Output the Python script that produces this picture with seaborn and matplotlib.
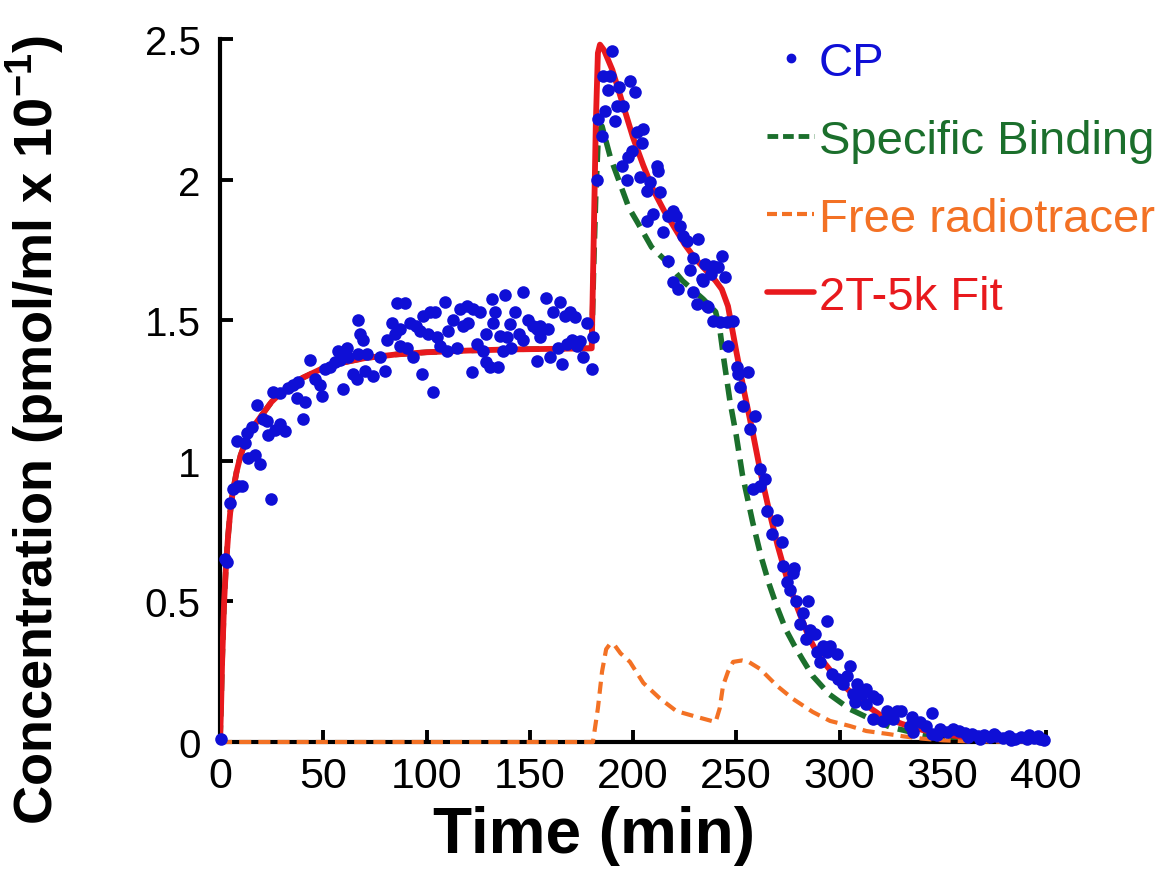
import numpy as np
import pandas as pd
import matplotlib
matplotlib.use("Agg")
import matplotlib.pyplot as plt
from matplotlib.lines import Line2D
import seaborn as sns

# ---------------- data ----------------
cp_time = [0.5, 2.5, 3.5, 4.8, 6.3, 8.7, 10.6, 8.2, 12.0, 13.6, 17.0, 19.4, 13.0, 15.5, 18.0,
           21.0, 22.8, 23.2, 24.5, 26.6, 29.0, 31.5, 25.7, 29.0, 33.0, 35.4, 37.9, 37.3, 41.0,
           40.3, 43.6, 46.0, 48.4, 49.4, 50.8, 53.3, 55.7, 58.0, 57.0, 59.6, 61.3, 62.0, 64.5,
           66.3, 66.8, 67.8, 69.4, 67.0, 71.0, 70.0, 74.0, 77.5, 80.0, 80.8, 83.3, 85.7, 89.6,
           84.7, 87.2, 87.2, 90.5, 93.5, 92.0, 95.0, 96.9, 97.8, 98.3, 101.7, 104.0, 103.0,
           100.7, 105.0, 106.5, 110.0, 109.0, 110.6, 112.8, 115.0, 116.0, 119.5, 122.6, 117.8,
           120.3, 122.0, 124.5, 126.0, 127.5, 129.0, 130.8, 134.6, 129.0, 131.6, 133.0, 132.3,
           135.6, 139.0, 137.0, 141.0, 138.0, 140.4, 142.8, 145.0, 146.8, 146.8, 149.0, 151.6,
           153.5, 155.0, 153.5, 155.0, 158.0, 159.0, 160.0, 161.5, 164.6, 165.6, 163.8, 167.0,
           169.5, 172.0, 168.0, 170.4, 172.8, 174.3, 175.8, 177.7, 180.0, 180.6,
           182.6, 183.0, 185.0, 186.4, 185.5, 188.9, 188.0, 189.8, 191.3, 192.2, 195.3, 193.4,
           198.5, 201.0, 194.7, 197.0, 197.7, 199.5, 202.0, 205.0, 204.4, 203.4, 208.0, 207.0,
           211.6, 212.0, 213.0, 206.8, 209.7, 214.5, 217.0, 219.4, 221.0, 222.8, 224.3, 226.0,
           227.6, 229.0, 231.5, 217.0, 219.4, 221.8, 229.0, 231.0, 235.8, 233.4, 234.9, 238.7,
           241.0, 243.0, 244.6, 238.0, 234.0, 236.5, 238.7, 242.0, 245.5, 248.4, 246.0, 250.4,
           251.0, 255.7, 251.8, 253.3, 259.0, 256.7, 261.5, 264.0, 258.0, 261.5, 265.0, 269.7,
           267.3, 272.0, 272.6, 278.0, 277.5, 274.6, 276.0, 279.0, 284.7, 282.3, 294.0, 281.0,
           285.7, 288.0, 283.8, 292.0, 295.4, 289.0, 294.0, 298.8, 290.6, 305.0, 296.4, 299.3,
           303.6, 301.7, 308.5, 313.0, 306.5, 311.0, 316.0, 318.0, 307.5, 313.0, 323.0, 328.0,
           330.0, 345.0, 316.0, 321.0, 326.0, 335.0, 339.0, 342.0, 334.0, 335.6, 345.0, 347.0,
           348.7, 352.0, 355.0, 358.0, 361.0, 364.0, 367.0, 370.0, 373.0, 376.0, 379.0, 382.0,
           385.0, 388.0, 391.0, 394.0, 397.0, 399.0, 362.0, 368.0, 375.0, 383.0, 392.0, 396.0]
cp_conc = [0.01, 0.65, 0.64, 0.85, 0.90, 0.91, 0.91, 1.07, 1.065, 1.01, 1.02, 0.99, 1.10, 1.12, 1.20,
           1.15, 1.14, 1.09, 0.865, 1.11, 1.13, 1.105, 1.245, 1.24, 1.26, 1.27, 1.28, 1.225, 1.21,
           1.15, 1.36, 1.29, 1.27, 1.23, 1.325, 1.335, 1.35, 1.36, 1.39, 1.255, 1.40, 1.37, 1.31,
           1.29, 1.50, 1.45, 1.43, 1.38, 1.38, 1.32, 1.30, 1.37, 1.32, 1.43, 1.49, 1.56, 1.56,
           1.45, 1.47, 1.41, 1.40, 1.37, 1.49, 1.48, 1.46, 1.31, 1.515, 1.53, 1.53, 1.245,
           1.45, 1.44, 1.41, 1.39, 1.565, 1.46, 1.50, 1.40, 1.54, 1.55, 1.54, 1.48,
           1.49, 1.315, 1.415, 1.53, 1.39, 1.35, 1.335, 1.335, 1.45, 1.575, 1.53, 1.49,
           1.445, 1.44, 1.39, 1.40, 1.59, 1.487, 1.53, 1.45, 1.43, 1.60, 1.50, 1.48,
           1.47, 1.48, 1.355, 1.44, 1.58, 1.47, 1.37, 1.53, 1.565, 1.345, 1.40, 1.515,
           1.53, 1.51, 1.415, 1.43, 1.41, 1.425, 1.37, 1.49, 1.325, 1.44,
           2.00, 2.215, 2.155, 2.245, 2.37, 2.37, 2.32, 2.457, 2.21, 2.26, 2.26, 2.33,
           2.35, 2.31, 2.05, 2.00, 2.08, 2.10, 2.17, 2.18, 2.13, 2.01, 1.99, 1.96,
           2.05, 2.03, 1.955, 1.853, 1.878, 1.813, 1.87, 1.89, 1.87, 1.835, 1.80, 1.78,
           1.68, 1.72, 1.79, 1.71, 1.636, 1.61, 1.60, 1.557, 1.55, 1.646, 1.70, 1.693,
           1.69, 1.728, 1.654, 1.664, 1.64, 1.547, 1.497, 1.494, 1.494, 1.497, 1.408, 1.334,
           1.31, 1.316, 1.262, 1.195, 1.16, 1.113, 0.97, 0.935, 0.90, 0.91, 0.82, 0.79,
           0.74, 0.71, 0.625, 0.62, 0.60, 0.57, 0.54, 0.50, 0.50, 0.46, 0.43, 0.42,
           0.40, 0.384, 0.366, 0.342, 0.342, 0.32, 0.32, 0.313, 0.284, 0.27, 0.242, 0.224,
           0.235, 0.206, 0.206, 0.188, 0.17, 0.17, 0.164, 0.153, 0.142, 0.135, 0.11, 0.11,
           0.11, 0.103, 0.082, 0.075, 0.082, 0.089, 0.071, 0.057, 0.057, 0.036, 0.03, 0.025,
           0.046, 0.036, 0.046, 0.039, 0.033, 0.028, 0.022, 0.025, 0.018, 0.022, 0.015, 0.02,
           0.012, 0.018, 0.01, 0.015, 0.012, 0.008, 0.018, 0.012, 0.03, 0.008, 0.025, 0.02]

fit_time = [0, 0.5, 1, 2, 3, 4, 5, 6, 8, 10, 13, 16, 20, 25, 30, 40, 50, 60, 70, 85, 100, 120,
            140, 160, 180, 181, 182, 183, 184, 186, 190, 195, 200, 205, 210, 215, 220, 225, 230,
            235, 240, 243, 246, 250, 254, 258, 262, 266, 270, 275, 280, 285, 290, 295, 300, 305,
            310, 320, 330, 340, 350, 360, 370, 380, 390, 400]
fit_conc = [0, 0.12, 0.28, 0.50, 0.64, 0.74, 0.82, 0.88, 0.96, 1.02, 1.08, 1.12, 1.16, 1.21,
            1.245, 1.295, 1.33, 1.35, 1.365, 1.378, 1.386, 1.392, 1.396, 1.398, 1.40, 1.80, 2.20,
            2.45, 2.48, 2.46, 2.39, 2.27, 2.15, 2.05, 1.96, 1.89, 1.83, 1.77, 1.72, 1.68, 1.64,
            1.61, 1.55, 1.39, 1.24, 1.10, 0.95, 0.82, 0.70, 0.57, 0.47, 0.375, 0.305, 0.26, 0.215,
            0.18, 0.145, 0.095, 0.065, 0.043, 0.028, 0.018, 0.012, 0.008, 0.005, 0.004]

sb_time = [0, 0.5, 1, 2, 3, 4, 5, 6, 8, 10, 13, 16, 20, 25, 30, 40, 50, 60, 70, 85, 100, 120,
           140, 160, 180, 181, 182, 183, 184, 185, 189, 194, 198, 202, 209, 216, 224, 234, 240,
           242, 244, 247, 250, 253, 258, 262, 266, 270, 274, 278, 282, 287, 295, 305, 315, 325,
           331, 340, 350, 360, 380, 400]
sb_conc = [0, 0.12, 0.28, 0.50, 0.64, 0.74, 0.82, 0.88, 0.96, 1.02, 1.08, 1.12, 1.16, 1.21,
           1.245, 1.295, 1.33, 1.35, 1.365, 1.378, 1.386, 1.392, 1.396, 1.398, 1.40, 1.70, 1.95,
           2.12, 2.18, 2.19, 2.08, 1.98, 1.90, 1.85, 1.76, 1.71, 1.64, 1.575, 1.53, 1.47, 1.36,
           1.21, 1.09, 0.95, 0.78, 0.66, 0.56, 0.475, 0.40, 0.345, 0.295, 0.235, 0.17, 0.117,
           0.082, 0.052, 0.042, 0.025, 0.012, 0.006, 0.002, 0.001]

free_time = [0, 180, 180.6, 183, 185, 187, 189, 191, 194, 198.5, 205, 213, 221, 231, 240, 242,
             243.6, 246, 248.5, 252.8, 256, 261.5, 269.7, 277.5, 287, 295.4, 305, 313, 324, 331,
             340, 350, 360, 380, 400]
free_conc = [0, 0, 0, 0.12, 0.25, 0.33, 0.35, 0.345, 0.315, 0.285, 0.21, 0.155, 0.11, 0.089,
             0.071, 0.12, 0.20, 0.25, 0.285, 0.29, 0.285, 0.26, 0.20, 0.153, 0.107, 0.075, 0.057,
             0.039, 0.028, 0.02, 0.012, 0.006, 0.003, 0.001, 0.0]

x_ticks = [0, 50, 100, 150, 200, 250, 300, 350, 400]
y_ticks = [0, 0.5, 1, 1.5, 2, 2.5]
y_tick_labels = ["0", "0.5", "1", "1.5", "2", "2.5"]
legend_labels = ["CP", "Specific Binding", "Free radiotracer", "2T-5k Fit"]

# ---------------- style ----------------
BLUE = "#0f0fd6"
GREEN = "#1b6f2c"
ORANGE = "#f37124"
RED = "#e8191d"

sns.set_style("ticks")
plt.rcParams["font.family"] = ["Liberation Sans", "DejaVu Sans"]
plt.rcParams["mathtext.fontset"] = "custom"
plt.rcParams["mathtext.rm"] = "Liberation Sans"
plt.rcParams["mathtext.bf"] = "Liberation Sans:bold"
plt.rcParams["text.color"] = "black"
plt.rcParams["axes.labelcolor"] = "black"

fig = plt.figure(figsize=(11.59, 8.70), dpi=100)
ax = fig.add_axes([220 / 1159, 1 - 743 / 870, 826 / 1159, 703 / 870])

fit_df = pd.DataFrame({"t": fit_time, "c": fit_conc})
sb_df = pd.DataFrame({"t": sb_time, "c": sb_conc})
free_df = pd.DataFrame({"t": free_time, "c": free_conc})
cp_df = pd.DataFrame({"t": cp_time, "c": cp_conc})

sns.lineplot(data=sb_df, x="t", y="c", ax=ax, color=GREEN, linewidth=4.0,
             linestyle=(0, (3.0, 1.6)), estimator=None, zorder=2, legend=False)
sns.lineplot(data=free_df, x="t", y="c", ax=ax, color=ORANGE, linewidth=3.0,
             linestyle=(0, (2.9, 1.7)), estimator=None, zorder=2.7, legend=False,
             clip_on=False)
sns.lineplot(data=fit_df, x="t", y="c", ax=ax, color=RED, linewidth=4.2,
             estimator=None, zorder=3, legend=False)
sns.scatterplot(data=cp_df, x="t", y="c", ax=ax, color=BLUE, s=82, linewidth=0,
                zorder=4, legend=False, clip_on=False)

ax.set_xlim(0, 400)
ax.set_ylim(0, 2.5)
ax.set_xticks(x_ticks)
ax.set_xticklabels([str(v) for v in x_ticks])
ax.set_yticks(y_ticks)
ax.set_yticklabels(y_tick_labels)

sns.despine(ax=ax)
for side in ["left", "bottom"]:
    ax.spines[side].set_linewidth(3.0)
    ax.spines[side].set_color("black")

ax.tick_params(axis="both", direction="in", length=9, width=2.8, colors="black")
ax.tick_params(axis="y", labelsize=29, pad=14)
ax.tick_params(axis="x", labelsize=31, pad=10)

ax.set_xlabel("Time (min)", fontsize=46, fontweight="bold", color="black")
ax.xaxis.set_label_coords(0.453, -0.09)
ax.set_ylabel(r"Concentration (pmol/ml x 10$^{\mathbf{-1}}$)", fontsize=39,
              fontweight="bold", color="black")
ax.yaxis.set_label_coords(-0.185, 0.445)

handles = [
    Line2D([], [], marker="o", linestyle="", color=BLUE, markersize=6),
    Line2D([], [], color=GREEN, linewidth=3.5, linestyle=(0, (2.2, 1.0))),
    Line2D([], [], color=ORANGE, linewidth=3.0, linestyle=(0, (2.4, 1.2))),
    Line2D([], [], color=RED, linewidth=4.0),
]
leg = ax.legend(handles, legend_labels, loc="upper left",
                bbox_to_anchor=(767 / 1159, 1 - 42 / 870),
                bbox_transform=fig.transFigure, frameon=False, fontsize=34,
                handlelength=1.0, handletextpad=0.1, labelspacing=0.72,
                borderpad=0, borderaxespad=0)
for txt, col in zip(leg.get_texts(), [BLUE, GREEN, ORANGE, RED]):
    txt.set_color(col)

fig.savefig("out.png", dpi=100)
